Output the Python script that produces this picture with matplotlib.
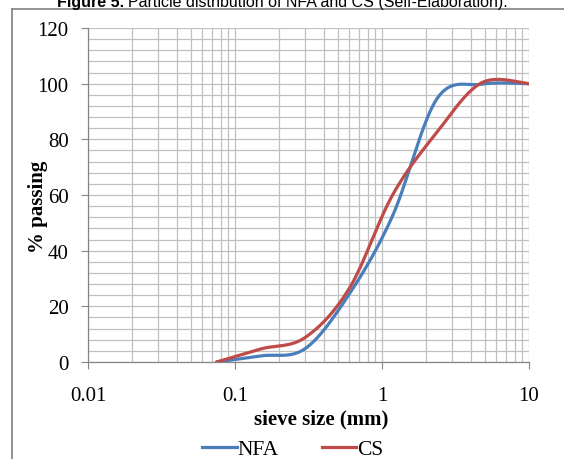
import numpy as np
import matplotlib.pyplot as plt
from matplotlib.lines import Line2D

# sieve sizes (mm) and % passing
sieve = [0.075, 0.15, 0.3, 0.6, 1.18, 2.36, 4.75, 10]
nfa = [0, 2.2, 4.8, 24.5, 52.5, 94.5, 99.8, 100]
cs = [0, 4.7, 8.8, 26.5, 60, 82.5, 100.3, 100]

x_ticks = [0.01, 0.1, 1, 10]
x_tick_labels = ['0.01', '0.1', '1', '10']
y_ticks = [0, 20, 40, 60, 80, 100, 120]


def smooth(xs, ys, sx=147.0, sy=2.783, n=40):
    '''excel-like smoothed line (bezier through the points, in screen space)'''
    px = np.log10(xs) * sx
    py = np.array(ys) * sy
    pts = np.column_stack([px, py])
    out = []
    for i in range(len(pts) - 1):
        p0 = pts[max(i - 1, 0)]
        p1 = pts[i]
        p2 = pts[i + 1]
        p3 = pts[min(i + 2, len(pts) - 1)]
        c1 = p1 + (p2 - p0) / 6.0
        c2 = p2 - (p3 - p1) / 6.0
        t = np.linspace(0, 1, n)[:, None]
        seg = ((1 - t) ** 3) * p1 + 3 * ((1 - t) ** 2) * t * c1 + 3 * (1 - t) * t ** 2 * c2 + t ** 3 * p2
        out.append(seg)
    seg = np.vstack(out)
    return 10 ** (seg[:, 0] / sx), seg[:, 1] / sy


plt.rcParams['font.family'] = 'Liberation Serif'

fig = plt.figure(figsize=(5.64, 4.60), dpi=100)
ax = fig.add_axes([88 / 564, 1 - 363 / 460, (529 - 88) / 564, (363 - 29) / 460])

blue = '#4A7EBB'
red = '#BE4B48'

xb, yb = smooth(sieve, nfa)
xr, yr = smooth(sieve, cs)
ax.plot(xb, yb, color=blue, lw=2.3, solid_capstyle='round', zorder=3)
ax.plot(xr, yr, color=red, lw=2.3, solid_capstyle='round', zorder=4)

ax.set_xscale('log')
ax.set_xlim(0.01, 10)
ax.set_ylim(0, 120)
ax.set_xticks(x_ticks)
ax.set_xticklabels(x_tick_labels)
ax.set_yticks(y_ticks)
ax.set_yticks(np.arange(0, 121, 4), minor=True)
ax.xaxis.set_minor_locator(plt.LogLocator(base=10, subs=np.arange(2, 10)))
ax.xaxis.set_minor_formatter(plt.NullFormatter())

ax.grid(True, which='both', color='#C0C0C0', lw=0.9)
ax.set_axisbelow(True)

for side in ['top', 'right']:
    ax.spines[side].set_visible(False)
for side in ['left', 'bottom']:
    ax.spines[side].set_color('#868686')
    ax.spines[side].set_linewidth(0.9)

ax.tick_params(axis='both', which='major', direction='out', length=5, color='#868686',
               labelsize=15, colors='black')
ax.tick_params(axis='x', which='major', pad=12)
ax.tick_params(axis='y', which='major', pad=9)
ax.tick_params(axis='both', which='minor', length=0)

ax.set_xlabel('sieve size (mm)', fontsize=15, fontweight='bold')
ax.xaxis.set_label_coords((321 - 88) / (529 - 88), (363 - 409) / (363 - 29))
ax.set_ylabel('% passing', fontsize=15, fontweight='bold')
ax.yaxis.set_label_coords((48 - 88) / (529 - 88), (363 - 207) / (363 - 29))

handles = [Line2D([], [], color=blue, lw=2.3), Line2D([], [], color=red, lw=2.3)]
fig.legend(handles, ['NFA', 'CS'], loc='center', bbox_to_anchor=(293 / 564, 1 - 450 / 460),
           ncol=2, frameon=False, fontsize=15.5, handlelength=1.6, handletextpad=0.05,
           columnspacing=2.0, borderpad=0, borderaxespad=0)

# page frame and the clipped caption above it
fig.add_artist(Line2D([12 / 564, 12 / 564], [0, 1 - 10 / 460], color='#808080', lw=1.2))
fig.add_artist(Line2D([12 / 564, 1], [1 - 10 / 460, 1 - 10 / 460], color='#808080', lw=1.2))

renderer = fig.canvas.get_renderer()
y_cap = 1 - 6.5 / 460
t1 = fig.text(57 / 564, y_cap, 'Figure 5.', family='Liberation Sans', fontsize=11.5,
              fontweight='bold', ha='left', va='baseline')
w1 = t1.get_window_extent(renderer).width
fig.text((57 + w1 + 4) / 564, y_cap, 'Particle distribution of NFA and CS (Self-Elaboration).',
         family='Liberation Sans', fontsize=11.5, ha='left', va='baseline')

fig.savefig('out.png', dpi=100)
